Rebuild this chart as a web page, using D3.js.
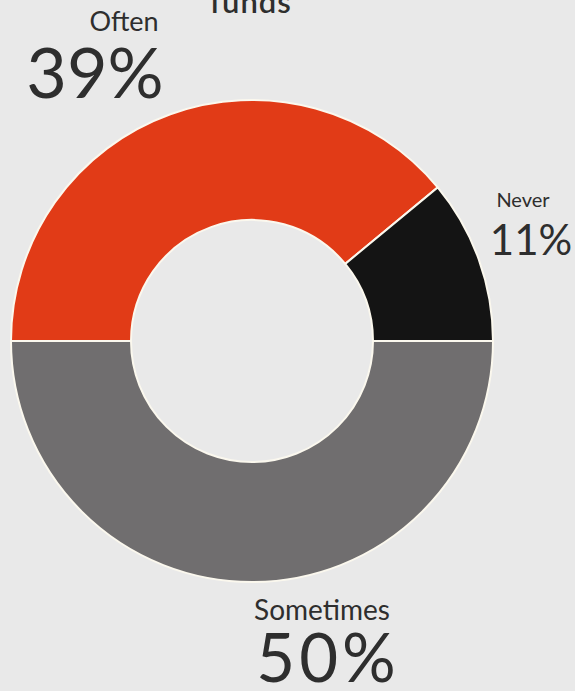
<!DOCTYPE html>
<html>
<head>
<meta charset="utf-8">
<script src="https://cdn.jsdelivr.net/npm/d3@7"></script>
<style>
  html, body { margin: 0; padding: 0; background: #e9e9e9; }
  svg { display: block; }
  text { font-family: Lato, "Noto Sans", sans-serif; fill: #2e2e2e; }
</style>
</head>
<body>
<div id="chart"></div>
<script>
// how often... (title cut off above, only "funds" is visible)
var categories = ["Often", "Never", "Sometimes"];
var values = [39, 11, 50];
var colors = ["#e13b17", "#141414", "#706e6f"];

var width = 575, height = 691;
var cx = 252, cy = 341;
var outerR = 241, innerR = 121;

var svg = d3.select("#chart")
    .append("svg")
    .attr("width", width)
    .attr("height", height);

// cut off title fragment
svg.append("text")
    .attr("x", 251)
    .attr("y", 13)
    .attr("text-anchor", "middle")
    .style("font-size", "31px")
    .style("font-weight", 600)
    .style("letter-spacing", "1px")
    .text("funds");

var pie = d3.pie()
    .sort(null)
    .value(function(d) { return d; })
    .startAngle(-Math.PI / 2)
    .endAngle(Math.PI * 3 / 2);

var arc = d3.arc()
    .innerRadius(innerR)
    .outerRadius(outerR);

var g = svg.append("g")
    .attr("transform", "translate(" + cx + "," + cy + ")");

g.selectAll(".slice")
    .data(pie(values))
    .enter()
    .append("path")
    .attr("class", "slice")
    .attr("d", arc)
    .attr("fill", function(d, i) { return colors[i]; })
    .attr("stroke", "#fbf8ee")
    .attr("stroke-width", 2);

// labels: name + percent, placed around the ring
var labelPos = [
    {nx: 124, ny: 31, ns: 27, px: 95, py: 98, ps: 70, ls: 0},
    {nx: 523, ny: 207, ns: 20, px: 531, py: 255, ps: 42, ls: 0},
    {nx: 322, ny: 620, ns: 28, px: 328, py: 682, ps: 67, ls: 4}
];

categories.forEach(function(c, i) {
    var p = labelPos[i];
    svg.append("text")
        .attr("x", p.nx)
        .attr("y", p.ny)
        .attr("text-anchor", "middle")
        .style("font-size", p.ns + "px")
        .text(c);
    svg.append("text")
        .attr("x", p.px)
        .attr("y", p.py)
        .attr("text-anchor", "middle")
        .style("font-size", p.ps + "px")
        .style("letter-spacing", p.ls + "px")
        .text(values[i] + "%");
});
</script>
</body>
</html>
